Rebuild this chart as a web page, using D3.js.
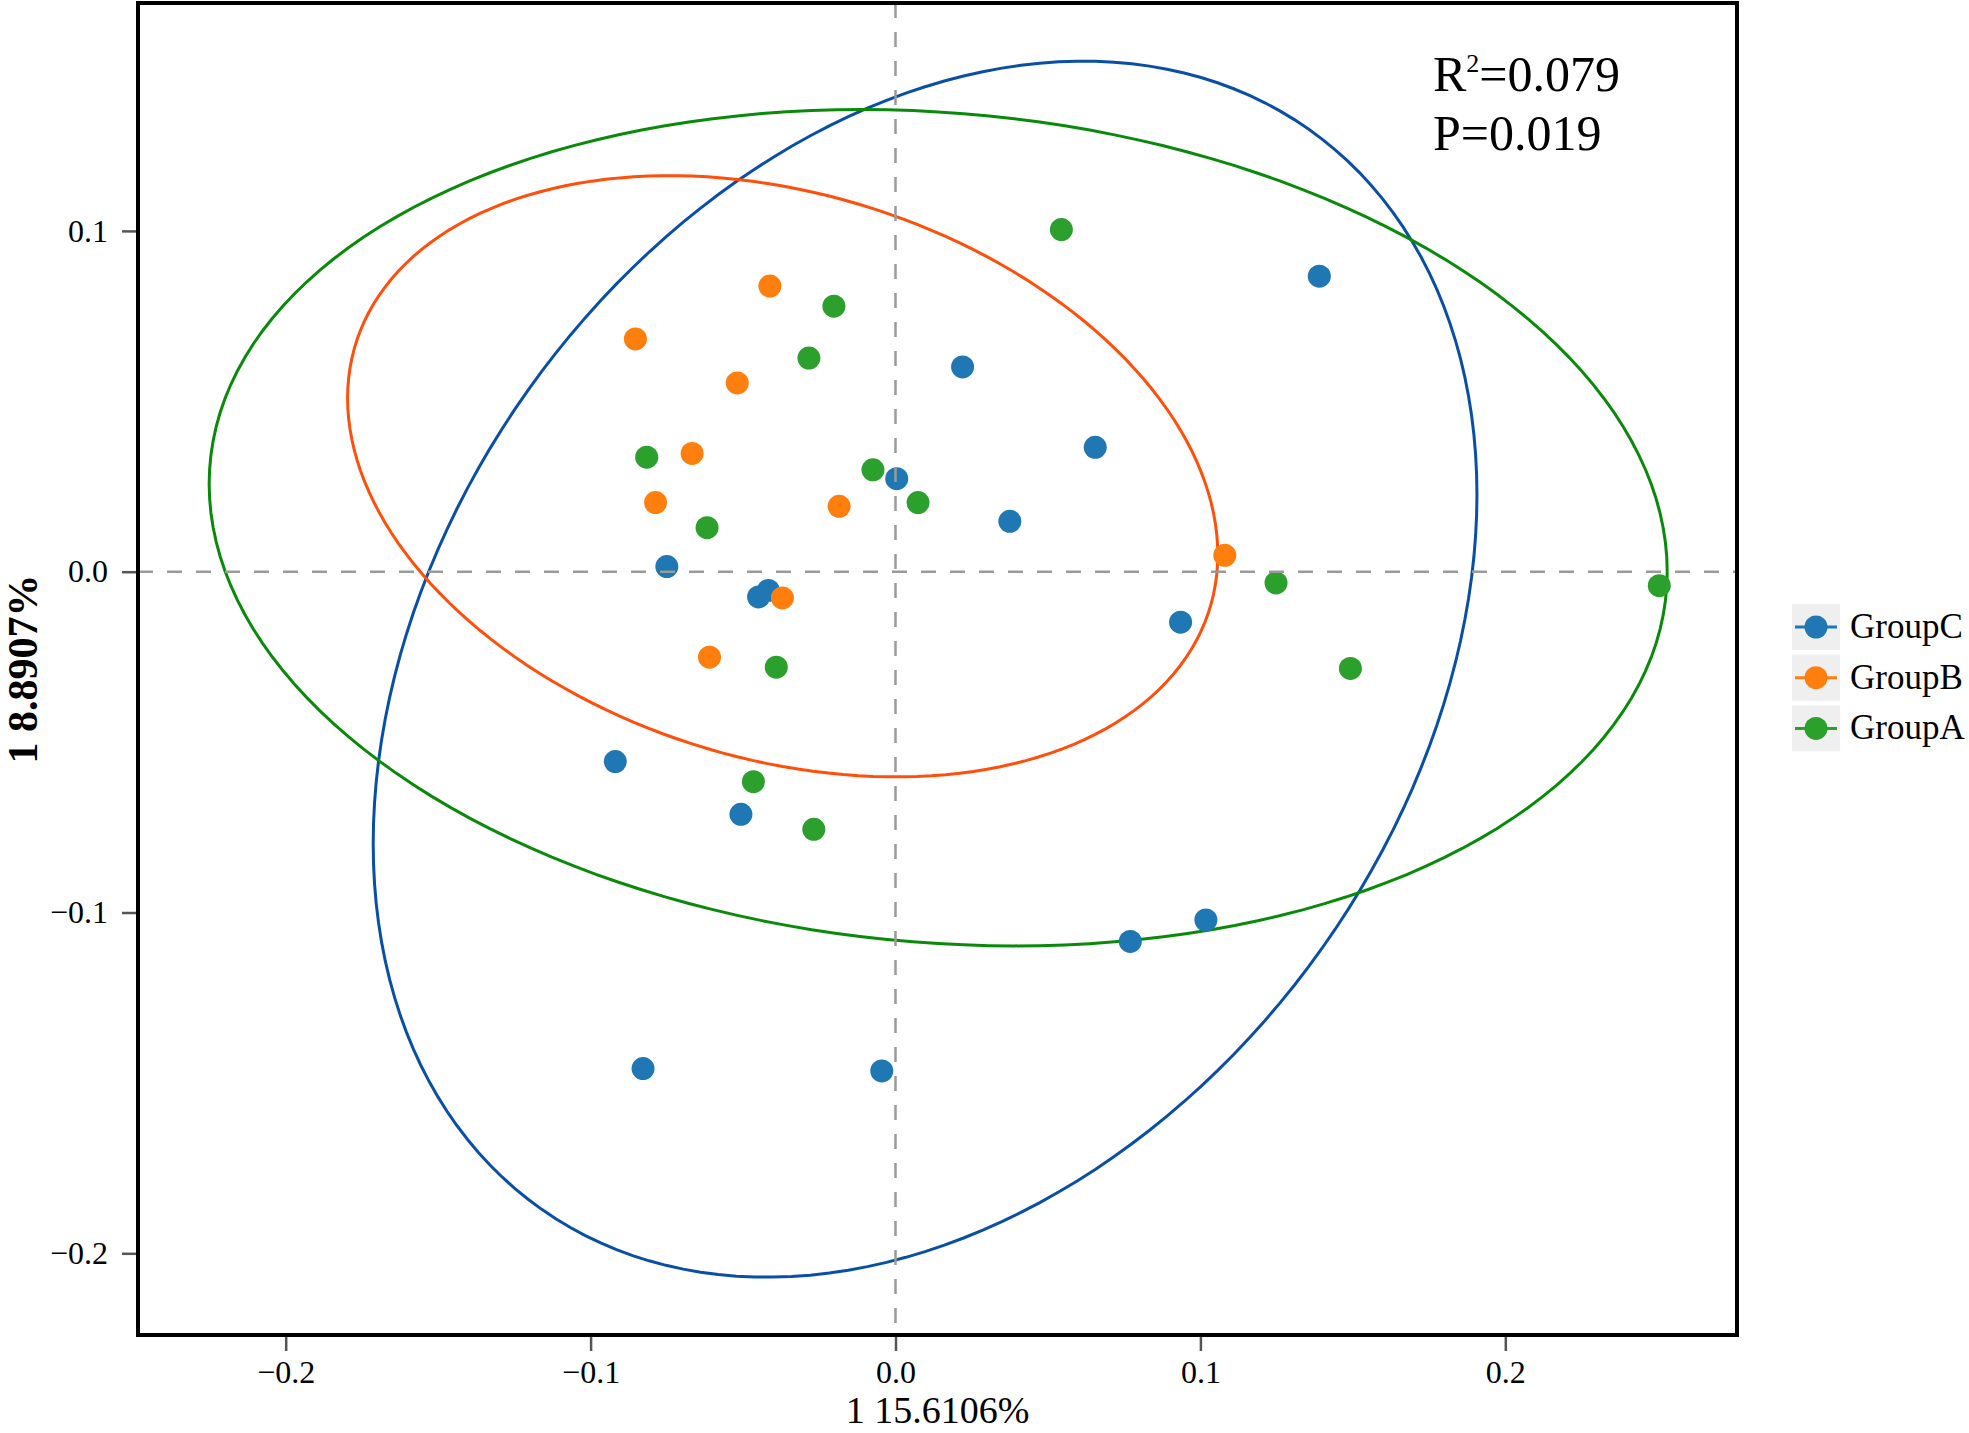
<!DOCTYPE html>
<html>
<head>
<meta charset="utf-8">
<script src="https://cdn.jsdelivr.net/npm/d3@7"></script>
<style>
  body { margin: 0; background: #fff; }
  text { font-family: "Liberation Serif", "Times New Roman", serif; }
</style>
</head>
<body>
<svg id="chart" width="1969" height="1433"></svg>
<script>
"use strict";

// group names in legend order
var groups = ["GroupC", "GroupB", "GroupA"];

// sample scores on the two axes
var groupC_x = [0.139, 0.022, 0.0655, 0.0004, 0.0375, -0.075, -0.0449, -0.0417, 0.0935, -0.0919, -0.0507, 0.077, 0.1018, -0.0828, -0.0045];
var groupC_y = [0.0867, 0.0601, 0.0365, 0.0273, 0.0148, 0.0015, -0.0074, -0.0055, -0.0148, -0.0557, -0.0712, -0.1085, -0.1022, -0.1458, -0.1465];

var groupB_x = [-0.0412, -0.0853, -0.0519, -0.0667, -0.0787, -0.0185, 0.108, -0.0371, -0.061];
var groupB_y = [0.0838, 0.0683, 0.0554, 0.0347, 0.0203, 0.0192, 0.0048, -0.0077, -0.0251];

var groupA_x = [0.0544, -0.0202, -0.0284, -0.0816, -0.0074, 0.0074, -0.0618, 0.1248, 0.2505, -0.0391, 0.1492, -0.0466, -0.0268];
var groupA_y = [0.1004, 0.0779, 0.0627, 0.0336, 0.0299, 0.0203, 0.0129, -0.0033, -0.0041, -0.028, -0.0284, -0.0616, -0.0756];

// confidence ellipses: centre, half extent on each axis, correlation (C, B, A)
var ellipse_cx  = [0.0097, -0.0370, 0.0140];
var ellipse_cy  = [-0.0286, 0.0280, 0.0129];
var ellipse_sx  = [0.1810, 0.1427, 0.2391];
var ellipse_sy  = [0.1784, 0.0882, 0.1227];
var ellipse_rho = [0.287, -0.26, -0.105];

var xTicks = [-0.2, -0.1, 0.0, 0.1, 0.2];
var yTicks = [-0.2, -0.1, 0.0, 0.1];
var xLabel = "1 15.6106%";
var yLabel = "1 8.8907%";
var statR2 = "0.079";
var statP = "0.019";

var pointColors = ["#1f77b4", "#ff7f0e", "#2ca02c"];
var ellipseColors = ["#0a4fa6", "#ff4f0a", "#0a8a0a"];

var svg = d3.select("#chart");

var plotLeft = 138, plotRight = 1737, plotTop = 3, plotBottom = 1335;

var x = d3.scaleLinear().domain([-0.24844, 0.27599]).range([plotLeft, plotRight]);
var y = d3.scaleLinear().domain([-0.22397, 0.16687]).range([plotBottom, plotTop]);

var series = [
  {name: groups[0], xs: groupC_x, ys: groupC_y},
  {name: groups[1], xs: groupB_x, ys: groupB_y},
  {name: groups[2], xs: groupA_x, ys: groupA_y}
];

// axes
var fmt = d3.format(".1f");
var xAxis = svg.append("g")
  .attr("transform", "translate(0," + plotBottom + ")")
  .call(d3.axisBottom(x).tickValues(xTicks).tickFormat(fmt).tickSize(16).tickPadding(9));
var yAxis = svg.append("g")
  .attr("transform", "translate(" + plotLeft + ",0)")
  .call(d3.axisLeft(y).tickValues(yTicks).tickFormat(fmt).tickSize(16).tickPadding(14));

[xAxis, yAxis].forEach(function(ax) {
  ax.select(".domain").remove();
  ax.selectAll(".tick line").attr("stroke", "#555").attr("stroke-width", 2.5);
  ax.selectAll(".tick text")
    .attr("fill", "#000")
    .style("font-family", "'Liberation Serif', serif")
    .style("font-size", "32px");
});

// ellipses
var tSteps = d3.range(0, 361, 2).map(function(d) { return d * Math.PI / 180; });
var ellipseLine = d3.line()
  .x(function(d) { return x(d[0]); })
  .y(function(d) { return y(d[1]); });

svg.append("clipPath").attr("id", "plotclip")
  .append("rect").attr("x", plotLeft).attr("y", plotTop)
  .attr("width", plotRight - plotLeft).attr("height", plotBottom - plotTop);

var plot = svg.append("g").attr("clip-path", "url(#plotclip)");

ellipse_cx.forEach(function(cx, i) {
  var cy = ellipse_cy[i], sx = ellipse_sx[i], sy = ellipse_sy[i], r = ellipse_rho[i];
  var pts = tSteps.map(function(t) {
    return [cx + sx * Math.cos(t), cy + sy * (r * Math.cos(t) + Math.sqrt(1 - r * r) * Math.sin(t))];
  });
  plot.append("path")
    .attr("d", ellipseLine(pts))
    .attr("fill", "none")
    .attr("stroke", ellipseColors[i])
    .attr("stroke-width", 3);
});

// points
series.forEach(function(s, i) {
  plot.append("g").selectAll("circle")
    .data(s.xs.map(function(v, j) { return [v, s.ys[j]]; }))
    .enter().append("circle")
    .attr("cx", function(d) { return x(d[0]); })
    .attr("cy", function(d) { return y(d[1]); })
    .attr("r", 11.5)
    .attr("fill", pointColors[i]);
});

// zero lines on top
plot.append("line")
  .attr("x1", x(0)).attr("x2", x(0)).attr("y1", plotTop).attr("y2", plotBottom)
  .attr("stroke", "#9a9a9a").attr("stroke-width", 2.5).attr("stroke-dasharray", "15,14");
plot.append("line")
  .attr("x1", plotLeft).attr("x2", plotRight).attr("y1", y(0)).attr("y2", y(0))
  .attr("stroke", "#9a9a9a").attr("stroke-width", 2.5).attr("stroke-dasharray", "15,14");

// frame
svg.append("rect")
  .attr("x", plotLeft).attr("y", plotTop)
  .attr("width", plotRight - plotLeft).attr("height", plotBottom - plotTop)
  .attr("fill", "none").attr("stroke", "#000").attr("stroke-width", 4);

// axis titles
svg.append("text")
  .attr("x", (plotLeft + plotRight) / 2).attr("y", 1423)
  .attr("text-anchor", "middle")
  .style("font-size", "38px")
  .text(xLabel);
svg.append("text")
  .attr("transform", "translate(37," + ((plotTop + plotBottom) / 2) + ") rotate(-90)")
  .attr("text-anchor", "middle")
  .style("font-size", "42px")
  .style("font-weight", "bold")
  .text(yLabel);

// statistics
var r2 = svg.append("text").attr("x", 1433).attr("y", 91).style("font-size", "50px");
r2.append("tspan").text("R");
r2.append("tspan").attr("dy", -19).style("font-size", "26px").text("2");
r2.append("tspan").attr("dy", 19).text("=" + statR2);
svg.append("text").attr("x", 1433).attr("y", 150).style("font-size", "50px").text("P=" + statP);

// legend
var legend = svg.append("g").selectAll("g")
  .data(groups)
  .enter().append("g")
  .attr("transform", function(d, i) { return "translate(1816," + (627 + i * 50.7) + ")"; });
legend.append("rect")
  .attr("x", -24).attr("y", -23).attr("width", 48).attr("height", 46)
  .attr("fill", "#efefef");
legend.append("line")
  .attr("x1", -21).attr("x2", 21)
  .attr("stroke", function(d, i) { return pointColors[i]; })
  .attr("stroke-width", 3);
legend.append("circle")
  .attr("r", 11.5)
  .attr("fill", function(d, i) { return pointColors[i]; });
legend.append("text")
  .attr("x", 34).attr("y", 11)
  .style("font-size", "35px")
  .text(function(d) { return d; });
</script>
</body>
</html>
